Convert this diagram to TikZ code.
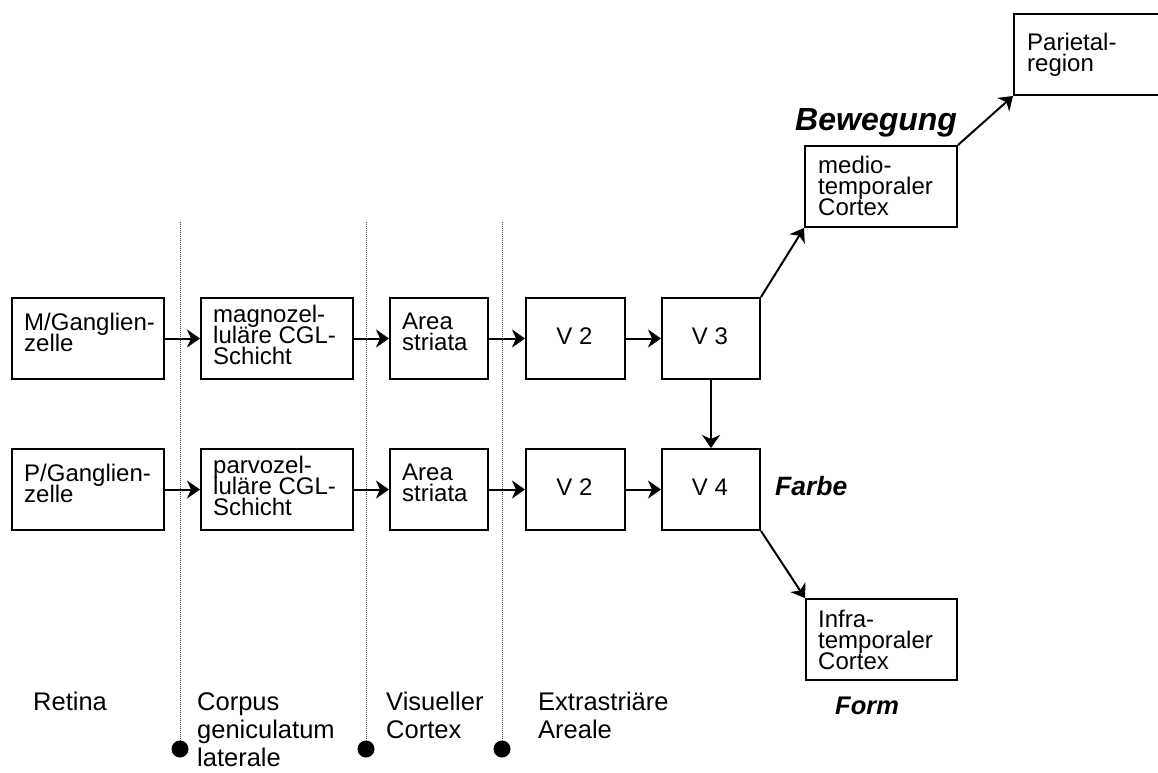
\documentclass[tikz,border=0pt]{standalone}
\usepackage{fontspec}
\setmainfont{Liberation Sans}
\usetikzlibrary{arrows.meta}
% left-aligned stack of lines whose baseline is that of the first line
\newcommand{\lns}[1]{\vtop{\lineskiplimit=-100pt\lineskip=0pt\halign{##\hfil\cr#1\crcr}}}
\begin{document}
\begin{tikzpicture}[x=1pt,y=-1pt,
  cell/.style={draw, line width=2pt, rectangle, inner sep=0pt, anchor=north west, minimum height=81pt},
  wide/.style={cell, minimum width=152pt},
  narrow/.style={cell, minimum width=98pt},
  txt/.style={anchor=base west, inner sep=0pt, font={\fontsize{24}{21}\selectfont}},
  ctxt/.style={txt, anchor=base},
  lab/.style={anchor=base west, inner sep=0pt, font={\fontsize{25.5}{28}\selectfont}},
  kw/.style={anchor=base west, inner sep=0pt, font={\bfseries\itshape\fontsize{#1}{#1}\selectfont}},
  arr/.style={line width=2pt, -{Stealth[length=13pt,width=18pt,inset=4pt]}},
  divider/.style={line width=0.9pt, black!75, dash pattern=on 1pt off 1pt},
  dotmark/.style={circle, fill, inner sep=0pt, minimum size=17pt},
]
\useasboundingbox (0,0) rectangle (1158,772);
\clip (0,0) rectangle (1158,772);

% stage dividers
\coordinate (s1) at (180,222);
\coordinate (s2) at (366,222);
\coordinate (s3) at (502,222);
\node[dotmark] (d1) at (180,749) {};
\node[dotmark] (d2) at (366,749) {};
\node[dotmark] (d3) at (502,749) {};
\draw[divider] (s1) -- (d1);
\draw[divider] (s2) -- (d2);
\draw[divider] (s3) -- (d3);

% magnocellular pathway
\node[wide] (mg) at (11,297) {};
\node[wide] (mcgl) at (200,297) {};
\node[narrow] (mas) at (389,297) {};
\node[narrow, minimum width=99pt] (mv2) at (525,297) {};
\node[narrow] (mv3) at (661,297) {};
\node[txt] (mgt) at (24,330) {\lns{M/Ganglien-\cr zelle}};
\node[txt] (mcglt) at (213,322) {\lns{magnozel-\cr luläre CGL-\cr Schicht}};
\node[txt] (mast) at (402,329) {\lns{Area\cr striata}};
\node[ctxt] (mv2t) at (574.5,344) {V 2};
\node[ctxt] (mv3t) at (710,344) {V 3};

% parvocellular pathway
\node[wide] (pg) at (11,448) {};
\node[wide] (pcgl) at (200,448) {};
\node[narrow] (pas) at (389,448) {};
\node[narrow, minimum width=99pt] (pv2) at (525,448) {};
\node[narrow] (pv4) at (661,448) {};
\node[txt] (pgt) at (24,481) {\lns{P/Ganglien-\cr zelle}};
\node[txt] (pcglt) at (213,473) {\lns{parvozel-\cr luläre CGL-\cr Schicht}};
\node[txt] (past) at (402,480) {\lns{Area\cr striata}};
\node[ctxt] (pv2t) at (574.5,495) {V 2};
\node[ctxt] (pv4t) at (710,495) {V 4};

% higher areas
\node[wide] (mt) at (804,145) {};
\node[wide] (par) at (1013,13) {};
\node[wide, minimum width=151pt] (it) at (805,598) {};
\node[txt] (mtt) at (818,173) {\lns{medio-\cr temporaler\cr Cortex}};
\node[txt] (part) at (1027,50) {\lns{Parietal-\cr region}};
\node[txt] (itt) at (818,627) {\lns{Infra-\cr temporaler\cr Cortex}};

% connections
\draw[arr] (mg) -- (mcgl);
\draw[arr] (mcgl) -- (mas);
\draw[arr] (mas) -- (mv2);
\draw[arr] (mv2) -- (mv3);
\draw[arr] (pg) -- (pcgl);
\draw[arr] (pcgl) -- (pas);
\draw[arr] (pas) -- (pv2);
\draw[arr] (pv2) -- (pv4);
\draw[arr] (mv3) -- (pv4);
\draw[arr] (mv3.north east) -- (mt.south west);
\draw[arr] (mt.north east) -- (par.south west);
\draw[arr] (pv4.south east) -- (it.north west);

% functions
\node[kw=32] (bew) at (795,130) {Bewegung};
\node[kw=26.5] (farbe) at (775,495) {Farbe};
\node[kw=25.5] (form) at (835,714) {Form};

% stage names
\node[lab] (l1) at (33,710) {Retina};
\node[lab] (l2) at (197,710) {\lns{Corpus\cr geniculatum\cr laterale}};
\node[lab] (l3) at (386,710) {\lns{Visueller\cr Cortex}};
\node[lab] (l4) at (538,710) {\lns{Extrastriäre\cr Areale}};
\end{tikzpicture}
\end{document}
